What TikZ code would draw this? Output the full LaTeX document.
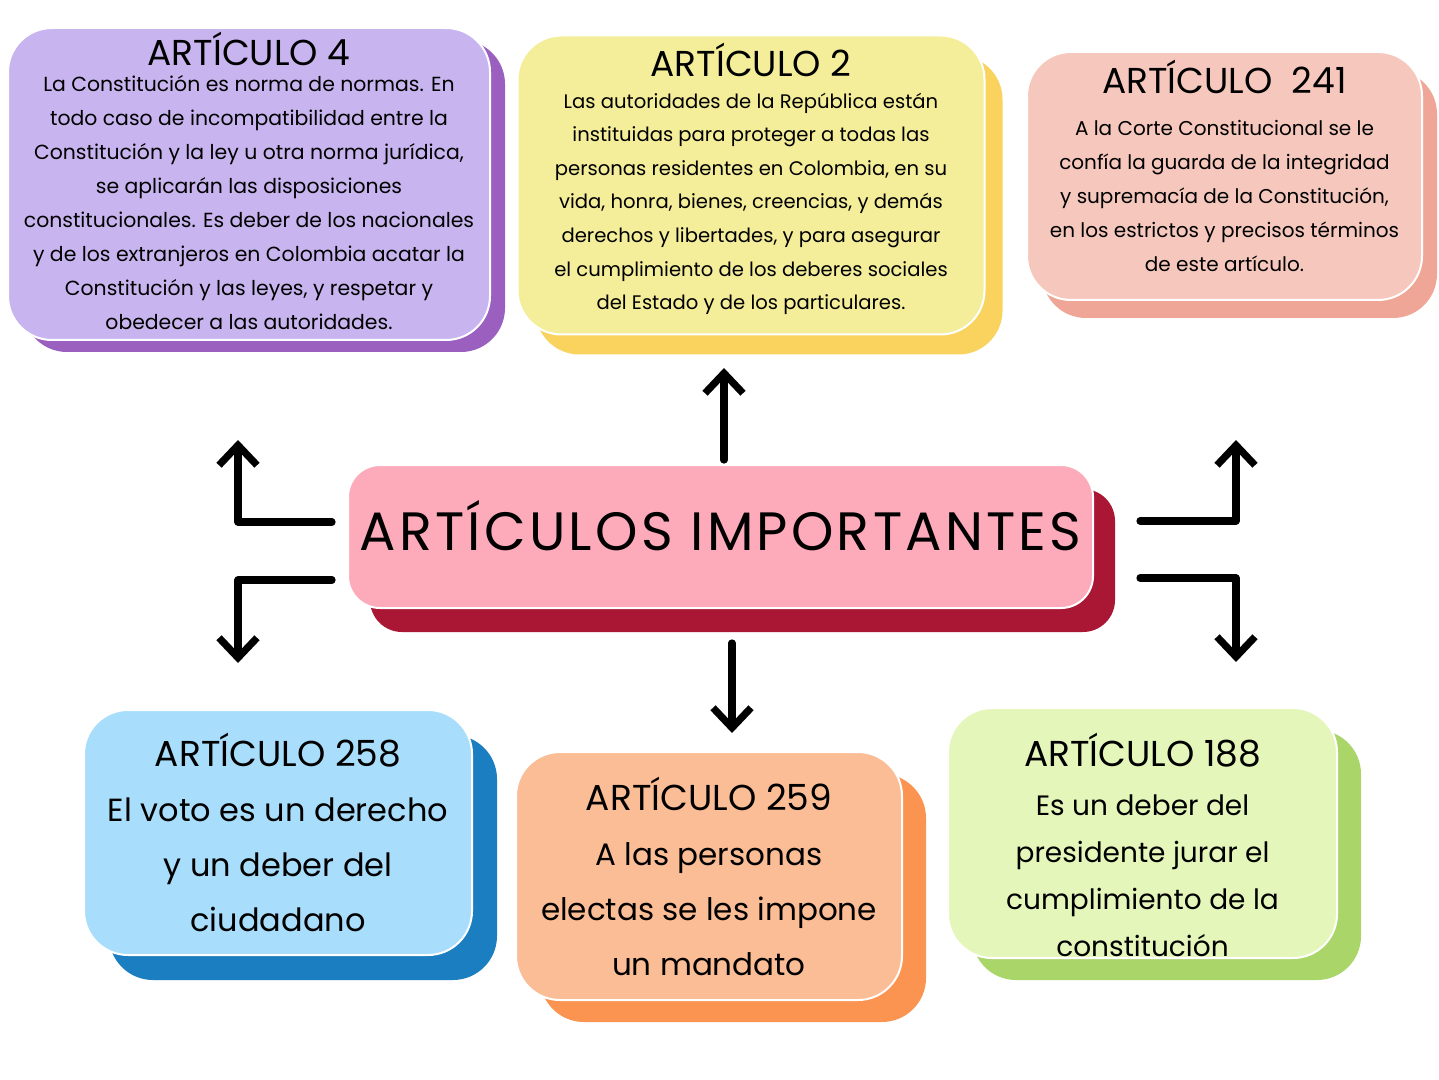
\documentclass[tikz,border=0pt]{standalone}
\usepackage{fontspec}
\setmainfont{Poppins}
\usetikzlibrary{arrows.meta,shadows}
\definecolor{lila}{HTML}{C8B5EF}   \definecolor{lilaosc}{HTML}{9B5FC0}
\definecolor{amar}{HTML}{F4EE9A}   \definecolor{amarosc}{HTML}{F9D35E}
\definecolor{salmon}{HTML}{F6C8BD} \definecolor{salmonosc}{HTML}{EFA696}
\definecolor{rosa}{HTML}{FDABBA}   \definecolor{rosaosc}{HTML}{A91735}
\definecolor{celeste}{HTML}{A8DDFB}\definecolor{celesteosc}{HTML}{1B7EC0}
\definecolor{naranja}{HTML}{FBBD95}\definecolor{naranjaosc}{HTML}{FA9450}
\definecolor{verde}{HTML}{E5F6BA}  \definecolor{verdeosc}{HTML}{AAD669}
\begin{document}
\begin{tikzpicture}[x=0.5pt,y=-0.5pt, line join=round, line cap=round,
	caja/.style={draw=white, line width=1pt, rounded corners=22pt, inner sep=0pt},
	sombra/.style n args={3}{general shadow={fill=#1, shadow xshift=#2, shadow yshift=#3}},
	texto/.style={align=center, inner sep=0pt, text=black},
	flecha/.style={line width=3.6pt, -{Straight Barb[length=10pt,width=19pt]}}]
	\useasboundingbox[fill=white] (0,0) rectangle (1439,1080);
	%Cajas
	\node[caja, fill=lila, sombra={lilaosc}{7.5pt}{-6pt}, minimum width=241pt, minimum height=156pt] (a4) at (249,184) {};
	\node[caja, fill=amar, sombra={amarosc}{9pt}{-10pt}, minimum width=233.5pt, minimum height=149.5pt] (a2) at (751,185) {};
	\node[caja, fill=salmon, sombra={salmonosc}{7.5pt}{-9pt}, minimum width=197.5pt, minimum height=124pt] (a241) at (1224.5,176) {};
	\node[caja, fill=rosa, sombra={rosaosc}{11pt}{-12pt}, rounded corners=16pt, minimum width=372.5pt, minimum height=71.5pt] (centro) at (720.5,536.5) {};
	\node[caja, fill=celeste, sombra={celesteosc}{12.5pt}{-12.5pt}, minimum width=194pt, minimum height=122.5pt] (a258) at (278,832.5) {};
	\node[caja, fill=naranja, sombra={naranjaosc}{12pt}{-11pt}, minimum width=193pt, minimum height=124pt] (a259) at (709,876) {};
	\node[caja, fill=verde, sombra={verdeosc}{12pt}{-11pt}, minimum width=194.5pt, minimum height=125pt] (a188) at (1142.5,833) {};
	%Textos
	\node[texto, font=\fontsize{10.2}{17}\selectfont] (t4) at ([yshift=1.5pt]a4.center)
		{{\fontsize{18}{18}\selectfont ARTÍCULO 4}\\[-4pt]
		La Constitución es norma de normas. En\\
		todo caso de incompatibilidad entre la\\
		Constitución y la ley u otra norma jurídica,\\
		se aplicarán las disposiciones\\
		constitucionales. Es deber de los nacionales\\
		y de los extranjeros en Colombia acatar la\\
		Constitución y las leyes, y respetar y\\
		obedecer a las autoridades.};
	\node[texto, font=\fontsize{9.8}{16.8}\selectfont] (t2) at ([yshift=3pt]a2.center)
		{{\fontsize{18}{18}\selectfont ARTÍCULO 2}\\[-1pt]
		Las autoridades de la República están\\
		instituidas para proteger a todas las\\
		personas residentes en Colombia, en su\\
		vida, honra, bienes, creencias, y demás\\
		derechos y libertades, y para asegurar\\
		el cumplimiento de los deberes sociales\\
		del Estado y de los particulares.};
	\node[texto, font=\fontsize{10}{17}\selectfont] (t241) at ([yshift=5pt]a241.center)
		{{\fontsize{18}{18}\selectfont ARTÍCULO\ \ 241}\\[4pt]
		A la Corte Constitucional se le\\
		confía la guarda de la integridad\\
		y supremacía de la Constitución,\\
		en los estrictos y precisos términos\\
		de este artículo.};
	\node[texto, font=\fontsize{27}{27}\addfontfeatures{LetterSpace=6}] (tc) at ([yshift=5.5pt]centro.center)
		{ARTÍCULOS IMPORTANTES};
	\node[texto, font=\fontsize{16}{27.5}\selectfont] (t258) at (a258.center)
		{{\fontsize{18}{18}\selectfont ARTÍCULO 258}\\
		El voto es un derecho\\
		y un deber del\\
		ciudadano};
	\node[texto, font=\fontsize{15.5}{27.5}\selectfont] (t259) at (a259.center)
		{{\fontsize{18}{18}\selectfont ARTÍCULO 259}\\
		A las personas\\
		electas se les impone\\
		un mandato};
	\node[texto, font=\fontsize{14}{23.5}\selectfont] (t188) at ([yshift=-6pt]a188.center)
		{{\fontsize{18}{18}\selectfont ARTÍCULO 188}\\[1pt]
		Es un deber del\\
		presidente jurar el\\
		cumplimiento de la\\
		constitución};
	%Flechas
	\coordinate (s2) at (724,460);   \coordinate (t2) at (724,368);
	\coordinate (s259) at (732,643); \coordinate (t259) at (732,733);
	\coordinate (s4) at (332,522);   \coordinate (t4) at (238,440);
	\coordinate (s258) at (332,580); \coordinate (t258) at (238,663);
	\coordinate (s241) at (1140,521);\coordinate (t241) at (1236,440);
	\coordinate (s188) at (1140,578);\coordinate (t188) at (1236,662);
	\draw[flecha] (s2)--(t2);
	\draw[flecha] (s259)--(t259);
	\foreach \k in {4,258,241,188} \draw[flecha] (s\k) -| (t\k);
\end{tikzpicture}
\end{document}
